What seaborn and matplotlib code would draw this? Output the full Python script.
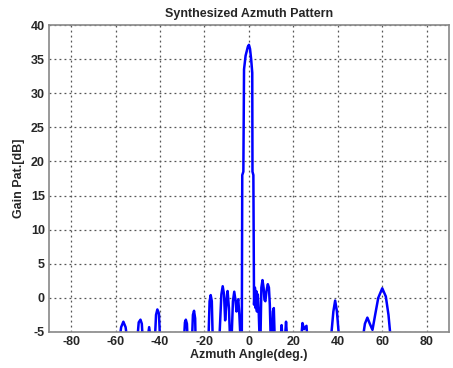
import pandas as pd
import matplotlib
matplotlib.use('Agg')
import matplotlib.pyplot as plt
import seaborn as sns

# azimuth angle (deg) and gain (dB); values below -5 lie under the axis floor
angle = [-90, -58.2, -57.5, -56.5, -55.5, -54.8,
         -50.2, -49.6, -48.8, -48.2, -47.8,
         -45.6, -44.9, -44.2,
         -42.3, -41.8, -41.2, -40.5, -40.0,
         -29.2, -28.8, -28.4, -27.9, -27.6,
         -25.6, -25.2, -24.7, -24.2, -24.0,
         -18.2, -17.7, -17.2, -16.7, -16.3,
         -13.3, -12.4, -11.8, -11.2, -10.7, -10.1, -9.6, -9.0, -8.5,
         -7.8, -7.2, -6.6, -6.0, -5.6, -5.1, -4.8, -4.3, -3.8,
         -3.2, -3.0, -2.5, -2.2, -1.5, -0.5, 0.0, 0.5, 1.0, 1.5, 1.6, 2.0,
         2.3, 2.7, 3.0, 3.3, 3.6, 4.0, 4.4, 4.8,
         5.2, 5.6, 6.1, 6.6, 7.0, 7.4, 7.9, 8.5, 9.0, 9.4, 9.8,
         10.4, 10.8, 11.2, 11.6,
         14.3, 14.7, 15.1,
         16.2, 16.7, 17.2,
         23.5, 24.1, 24.8, 25.9, 26.3,
         36.9, 38.0, 38.8, 39.6, 40.6,
         51.2, 52.2, 53.3, 54.4, 55.6, 56.8, 58.2, 60.0, 61.6, 62.8, 63.8, 90]
gain = [-6, -6, -4.3, -3.5, -4.3, -6,
        -6, -3.6, -3.2, -3.8, -6,
        -6, -4.3, -6,
        -6, -2.5, -1.7, -2.3, -6,
        -6, -3.6, -3.2, -3.8, -6,
        -6, -2.5, -1.9, -3.0, -6,
        -6, -0.5, 0.4, -0.5, -6,
        -6, 0.5, 1.7, 0.5, -3.3, -0.5, 1.0, -1.5, -6,
        -6, -0.5, 0.9, -0.5, -2.0, -0.6, -0.2, -2.5, -6,
        -6, 18.0, 18.5, 33.5, 35.5, 36.8, 37.1, 36.5, 35.0, 33.0, 18.5, 18.0,
        -1.0, 1.5, -1.5, 1.0, -2.0, 0.5, -2.0, -6,
        -6, 1.5, 2.6, 1.5, -0.3, -0.5, 1.0, 2.0, 1.5, -1.0, -6,
        -6, -2.0, -1.5, -6,
        -6, -4.0, -6,
        -6, -3.5, -6,
        -6, -3.7, -4.6, -4.1, -6,
        -6, -2.0, -0.4, -2.0, -6,
        -6, -3.8, -2.9, -3.8, -4.7, -2.5, 0.0, 1.4, 0.2, -2.5, -6, -6]

xticks = [-80, -60, -40, -20, 0, 20, 40, 60, 80]
yticks = [-5, 0, 5, 10, 15, 20, 25, 30, 35, 40]

df = pd.DataFrame({'angle': angle, 'gain': gain})

sns.set_style('white')
plt.rcParams['font.family'] = ['Liberation Sans', 'DejaVu Sans']
plt.rcParams['font.weight'] = 'bold'
plt.rcParams['axes.unicode_minus'] = False

fig = plt.figure(figsize=(4.53, 3.68), dpi=100)
ax = fig.add_axes([0.108, 0.098, 0.883, 0.834])
sns.lineplot(data=df, x='angle', y='gain', sort=False, estimator=None,
             color='#0000ff', linewidth=1.8, ax=ax)

ax.set_xlim(-90, 90)
ax.set_ylim(-5, 40)
ax.set_xticks(xticks)
ax.set_yticks(yticks)
ax.grid(True, linestyle=(0, (1.5, 2.5)), color='#555555', linewidth=0.9)
ax.tick_params(direction='in', length=3, labelsize=9, color='#666666', pad=3)
for lab in ax.get_xticklabels() + ax.get_yticklabels():
    lab.set_fontweight('bold')
for s in ax.spines.values():
    s.set_color('#888888')
    s.set_linewidth(1.2)

ax.set_title('Synthesized Azmuth Pattern', fontsize=9, fontweight='bold', pad=6)
ax.set_xlabel('Azmuth Angle(deg.)', fontsize=9, fontweight='bold', labelpad=1)
ax.set_ylabel('Gain Pat.[dB]', fontsize=9, fontweight='bold', labelpad=4)

fig.savefig('out.png', dpi=100, facecolor='white')
